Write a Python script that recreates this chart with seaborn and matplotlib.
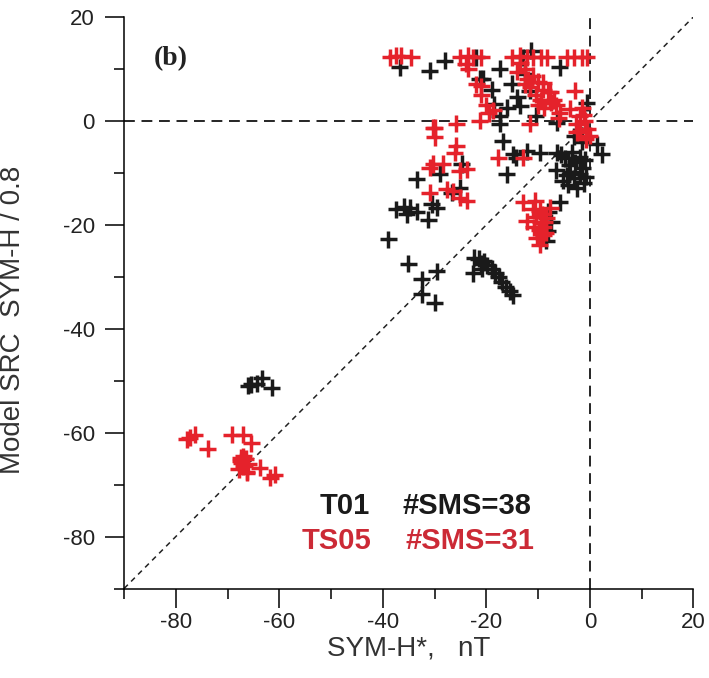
import matplotlib
matplotlib.use("Agg")
import matplotlib.pyplot as plt
import seaborn as sns
import pandas as pd
from matplotlib.ticker import MultipleLocator

# ---- data ----
t01_x = [-36.7, -30.9, -28.0, -21.3, -20.7, -17.4, -11.3, -13.0, -15.1, -11.6, -13.5, -17.4, -16.0, -18.5,
         -5.8, -0.6, -6.4, -12.5, -14.0, -10.5, -22.0, -19.0,
         -17.4, -16.8, -16.1, -14.8, -12.2, -9.7, -6.4, -14.2, -5.5, -3.5, -2.0, -4.0, -1.5, -6.5, -3.0,
         -1.2, -4.5, -2.5, 1.3, 2.3, -1.5, -3.0,
         -4.8, -2.8, -3.8, -5.2, -2.0, -0.8, -4.2, -1.0,
         -33.5, -29.0, -24.8, -25.1, -26.7, -37.4, -34.8, -35.4, -36.0, -30.6, -29.6, -31.2, -33.5,
         -39.0, -35.1, -29.6, -32.5, -32.5, -30.0,
         -22.3, -21.5, -20.5, -19.8, -19.0, -18.3, -17.6, -17.0, -16.3, -15.5, -14.9, -22.5, -20.8, -21.0,
         -5.8, -8.1, -8.4, -7.5, -8.0,
         -66.0, -65.4, -64.4, -63.4, -61.5]
t01_y = [10.3, 9.6, 11.6, 8.1, 8.1, 10.0, 13.5, 12.2, 7.1, 5.8, 2.9, 1.0, 2.5, 3.2,
         10.3, 3.5, -0.4, 9.0, 4.5, 1.0, 12.2, 6.0,
         -0.6, -3.9, -10.3, -6.4, -5.8, -6.1, -6.1, -7.1, -6.5, -6.0, -7.0, -8.5, -9.0, -9.5, -11.0,
         -12.0, -10.5, -13.0, -4.5, -6.4, -4.0, -3.0,
         -7.2, -8.0, -9.8, -11.5, -10.2, -10.8, -12.3, -7.5,
         -11.2, -10.2, -8.3, -12.9, -13.8, -17.0, -16.7, -18.0, -16.5, -16.0, -16.7, -19.0, -17.5,
         -22.8, -27.5, -28.9, -30.5, -33.4, -35.0,
         -26.3, -26.5, -27.0, -27.8, -28.5, -29.2, -30.0, -31.0, -32.0, -32.8, -33.6, -29.3, -28.5, -27.5,
         -15.7, -21.2, -23.1, -19.5, -17.5,
         -51.0, -50.7, -50.6, -49.5, -51.4]

ts05_x = [-38.6, -37.4, -36.4, -34.5, -25.0, -23.5, -22.5, -21.0, -15.0, -13.5, -12.2, -11.0, -9.5, -8.3,
          -4.5, -3.0, -1.5, -0.6,
          -23.5, -22.0, -21.0, -20.0, -19.5, -21.0, -18.7, -24.0,
          -13.5, -14.0, -12.5, -11.0, -10.0, -9.0, -8.0, -7.7, -7.0, -6.5, -5.8, -2.9, -3.9, -2.0, -1.0,
          -0.5, -2.6, -1.9, 0.0, -11.6, -1.5,
          -12.0, -11.5, -10.5, -9.5, -8.8, -10.0, -12.5, -9.0, -7.5, -6.0, -2.5, -1.2, -0.8,
          -30.0, -25.8, -21.3,
          -30.3, -30.0, -25.8, -26.1, -30.3, -28.4, -30.9, -30.9, -27.7, -25.1, -23.8, -25.1, -23.8, -26.4,
          -17.7, -12.9,
          -12.9, -10.6, -12.2, -9.7, -8.4, -9.0, -10.3, -9.7, -7.7, -9.5, -10.5, -9.0,
          -9.2, -8.8, -9.8, -10.8, -8.5, -11.0,
          -77.9, -76.3, -77.3, -73.8, -69.2, -67.0, -65.4, -67.5, -67.0, -66.5, -67.8, -66.3, -67.0,
          -63.8, -61.8, -60.9, -66.3, -67.3, -66.8, -66.0, -67.5]
ts05_y = [12.2, 12.5, 12.5, 12.2, 12.2, 12.5, 12.2, 12.2, 12.2, 12.5, 12.2, 12.2, 12.2, 12.2,
          12.2, 12.2, 12.2, 12.2,
          10.0, 7.0, 5.0, 3.0, 1.5, 6.7, 2.0, 11.0,
          11.2, 9.5, 10.0, 8.7, 7.5, 7.3, 5.5, 5.5, 4.0, 3.0, 1.5, 5.8, 2.3, 1.0, 0.0,
          -1.5, -0.6, -1.9, -2.9, -0.6, 2.5,
          8.0, 6.5, 5.0, 4.0, 2.5, 3.0, 7.0, 6.0, 3.5, 0.5, -2.2, 1.2, -3.5,
          -1.3, -0.6, 0.0,
          -1.3, -3.2, -4.8, -6.1, -8.3, -8.3, -9.0, -13.8, -13.2, -9.6, -9.3, -14.8, -15.4, -13.5,
          -7.1, -7.1,
          -15.7, -15.4, -19.3, -17.3, -18.6, -20.5, -22.5, -23.8, -16.7, -19.5, -18.5, -22.0,
          -18.0, -19.5, -21.0, -20.5, -21.5, -17.0,
          -61.3, -60.4, -61.0, -63.1, -60.4, -60.4, -62.0, -65.5, -66.5, -65.0, -67.0, -67.5, -64.5,
          -66.8, -68.7, -68.1, -67.7, -65.8, -66.2, -66.0, -64.8]

models = ["T01", "TS05"]
sms_counts = [38, 31]
x_ticks = [-80, -60, -40, -20, 0, 20]
y_ticks = [-80, -60, -40, -20, 0, 20]

BLACK = "#1a1a1a"
RED = "#e5222b"
RED_TXT = "#cc2a36"

df = pd.DataFrame({
    "x": t01_x + ts05_x,
    "y": t01_y + ts05_y,
    "model": ["T01"] * len(t01_x) + ["TS05"] * len(ts05_x),
})

sns.set_theme(style="white")
plt.rcParams["font.family"] = ["Liberation Sans", "DejaVu Sans"]
plt.rcParams["axes.unicode_minus"] = False

fig = plt.figure(figsize=(7.09, 6.78), dpi=100)
ax = fig.add_axes([0.175, 0.132, 0.803, 0.843])

ax.axhline(0, color="black", lw=1.2, ls=(0, (6.5, 4.0)), zorder=1)
ax.axvline(0, color="black", lw=1.2, ls=(0, (6.5, 4.0)), zorder=1)
ax.plot([-90, 20], [-90, 20], color="#222222", lw=1.1, ls=(0, (3.5, 3.0)), zorder=1)

sns.scatterplot(data=df, x="x", y="y", hue="model", palette={"T01": BLACK, "TS05": RED},
                marker="+", s=150, linewidth=2.5, legend=False, ax=ax, zorder=3)

ax.set_xlim(-90, 20)
ax.set_ylim(-90, 20)
ax.set_xticks(x_ticks)
ax.set_yticks(y_ticks)
ax.xaxis.set_minor_locator(MultipleLocator(10))
ax.yaxis.set_minor_locator(MultipleLocator(10))
ax.tick_params(which="major", direction="out", length=14, width=1.1, color="black",
               labelsize=16, labelcolor="#222222")
ax.tick_params(which="minor", direction="out", length=7, width=1.1, color="black")
ax.tick_params(axis="x", which="both", bottom=True, pad=3)
ax.tick_params(axis="y", which="both", left=True, pad=7)
for side in ["top", "right"]:
    ax.spines[side].set_visible(False)
for side in ["left", "bottom"]:
    ax.spines[side].set_color("black")
    ax.spines[side].set_linewidth(1.1)

ax.set_xlabel("SYM-H*,   nT", fontsize=20, color="#333333", labelpad=2)
ax.set_ylabel("Model SRC  SYM-H / 0.8", fontsize=20, color="#333333")
ax.yaxis.set_label_coords(-0.172, 0.47)

ax.text(-81, 11.9, "(b)", fontsize=20, fontweight="bold", family="Liberation Serif",
        ha="center", va="center", color="#222222")

ax.text(-52.2, -74.2, models[0], fontsize=21, fontweight="bold", color=BLACK, ha="left", va="center")
ax.text(-36.3, -74.2, f"#SMS={sms_counts[0]}", fontsize=21, fontweight="bold", color=BLACK,
        ha="left", va="center")
ax.text(-55.7, -80.9, models[1], fontsize=21, fontweight="bold", color=RED_TXT, ha="left", va="center")
ax.text(-35.7, -80.9, f"#SMS={sms_counts[1]}", fontsize=21, fontweight="bold", color=RED_TXT,
        ha="left", va="center")

fig.savefig("out.png", dpi=100, facecolor="white")
